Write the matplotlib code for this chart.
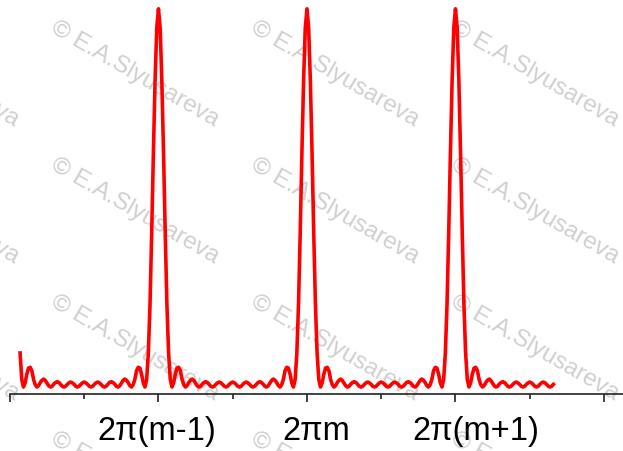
import numpy as np
import matplotlib; matplotlib.use('Agg')
import matplotlib.pyplot as plt
from matplotlib.transforms import ScaledTranslation

plt.rcParams['font.family'] = ['Liberation Sans', 'DejaVu Sans']

# one half of a grating period (N = 11 slits -> 9 side maxima)
# samples every 1/88 of the order spacing, values relative to main-peak height
half_val = [1.0, 0.95, 0.81, 0.62, 0.41, 0.22, 0.09, 0.02,
            0.0, 0.011, 0.034, 0.05, 0.052, 0.043, 0.02, 0.006,
            0.0, 0.004, 0.012, 0.018, 0.021, 0.017, 0.01, 0.003,
            0.0, 0.002, 0.008, 0.012, 0.014, 0.012, 0.007, 0.002,
            0.0, 0.002, 0.007, 0.011, 0.013, 0.011, 0.007, 0.002,
            0.0, 0.002, 0.007, 0.011, 0.013]
orders = [-2, -1, 0, 1, 2]
u_start, u_end = -1.935, 1.66     # visible part of the curve

tick_major = [-2, -1, 0, 1, 2]
tick_labels = ['', '2π(m-1)', '2πm', '2π(m+1)', '']
label_shift_px = [0, -2, 9, 20, 0]
tick_minor = [-1.5, -0.5, 0.5, 1.5]
watermark = '© E.A.Slyusareva'

# mirror the half period, drop the first point so tiled periods don't duplicate
n = len(half_val)
half_pos = np.arange(n) / (2.0 * (n - 1))
pos = np.concatenate([-half_pos[:0:-1], half_pos])[1:]
val = np.array(half_val[:0:-1] + half_val)[1:]
u = np.concatenate([k + pos for k in orders])
I = np.tile(val, len(orders))
keep = (u >= u_start) & (u <= u_end)

fig = plt.figure(figsize=(6.23, 4.52), dpi=100)
ax = fig.add_axes([0, 57 / 452, 1, 395 / 452])
ax.set_zorder(1); ax.patch.set_visible(False)

ax.plot(u[keep], I[keep], color='#ff0000', lw=2.6, solid_joinstyle='round')

ax.set_xlim(-2.067, 2.128); ax.set_ylim(-0.0185, 1.026)
for s in ('top', 'left', 'right'):
    ax.spines[s].set_visible(False)
ax.spines['bottom'].set_bounds(-2, 2.128)
ax.spines['bottom'].set_linewidth(1.2); ax.spines['bottom'].set_color('#222222')
ax.set_yticks([])
ax.set_xticks(tick_major); ax.set_xticklabels(tick_labels, fontsize=23.5)
ax.set_xticks(tick_minor, minor=True)
ax.tick_params(which='major', length=6, width=1.2, color='#222222', pad=9)
ax.tick_params(which='minor', length=3.6, width=1.2, color='#222222')
for lab, dx in zip(ax.get_xticklabels(), label_shift_px):
    lab.set_transform(lab.get_transform() + ScaledTranslation(dx / 100, 0, fig.dpi_scale_trans))

# watermark grid (pixel centres), behind the curve
for r in range(4):
    for k in range(-1, 4):
        cx, cy = 135 + 200 * k, 74 + 137 * r
        fig.text(cx / 623, 1 - cy / 452, watermark, fontsize=17.5, color='#d0d0d0',
                 rotation=-30, ha='center', va='center', zorder=0.5)

fig.savefig('out.png', dpi=100)
